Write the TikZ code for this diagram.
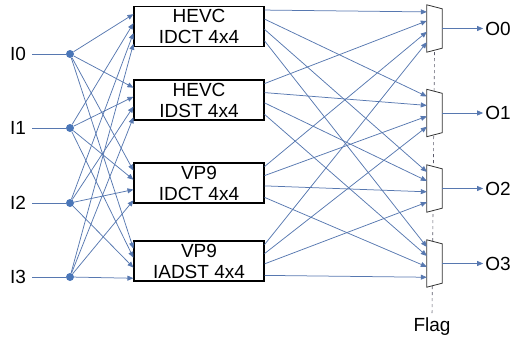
\documentclass[tikz,border=0pt]{standalone}
\usepackage{fontspec}
\setmainfont{Liberation Sans}
\usetikzlibrary{arrows.meta,calc}
\definecolor{wireblue}{HTML}{5778B0}
\definecolor{dotblue}{HTML}{4A76B8}
\definecolor{flaggray}{HTML}{5A5A6A}
\tikzset{
  blk/.style={draw=black, line width=1.1pt, fill=white, minimum width=130pt, minimum height=40pt, align=center, inner sep=0pt},
  muxspot/.style={minimum width=15pt, minimum height=47pt, inner sep=0pt},
  muxline/.style={draw=black!80, line width=0.8pt, fill=white},
  wire/.style={draw=wireblue, line width=0.75pt},
  arrow/.style={wire, -{Triangle[length=6pt,width=5pt]}},
  dot/.style={circle, fill=dotblue, minimum size=8pt, inner sep=0pt},
  lbl/.style={inner sep=2pt}
}
\begin{document}
\begin{tikzpicture}[x=1pt,y=-1pt,font=\fontsize{19}{21}\selectfont]
  \useasboundingbox (0,0) rectangle (513,337);
  \foreach \i/\y in {0/54,1/128,2/203,3/277} {
    \node[lbl] (in\i) at (18,\y) {I\i};
    \node[dot] (d\i) at (70,\y) {};
    \draw[wire, shorten <=4pt] (in\i) -- (d\i);
  }
  \foreach \k/\y/\txt in {0/26.5/{HEVC\\IDCT 4x4},1/100/{HEVC\\IDST 4x4},2/183/{VP9\\IDCT 4x4},3/261/{VP9\\IADST 4x4}}
    \node[blk] (b\k) at (199,\y) {\txt};
  \foreach \i/\fa in {0/0.2,1/0.42,2/0.66,3/0.92}
    \foreach \k in {0,...,3}
      \draw[arrow] (d\i) -- ($(b\k.north west)!\fa!(b\k.south west)$);
  \foreach \m/\y in {0/28.5,1/113,2/188.5,3/263.5} {
    \node[muxspot] (mux\m) at (434.5,\y) {};
    \node[lbl] (o\m) at (498,\y) {O\m};
  }
  \node[lbl] (flag) at (432,327) {Flag};
  \draw[dashed, draw=flaggray, line width=0.6pt] (mux0.south) -- (flag.north);
  \foreach \m in {0,...,3} {
    \draw[muxline] (mux\m.north west) -- ([yshift=-4pt]mux\m.north east) -- ([yshift=4pt]mux\m.south east) -- (mux\m.south west) -- cycle;
    \draw[arrow] (mux\m.east) -- (o\m.west);
  }
  \foreach \k/\fk in {0/0.15,1/0.34,2/0.57,3/0.79}
    \foreach \m/\fm in {0/0.1,1/0.32,2/0.57,3/0.85}
      \draw[arrow] ($(b\k.north east)!\fm!(b\k.south east)$) -- ($(mux\m.north west)!\fk!(mux\m.south west)$);
\end{tikzpicture}
\end{document}
